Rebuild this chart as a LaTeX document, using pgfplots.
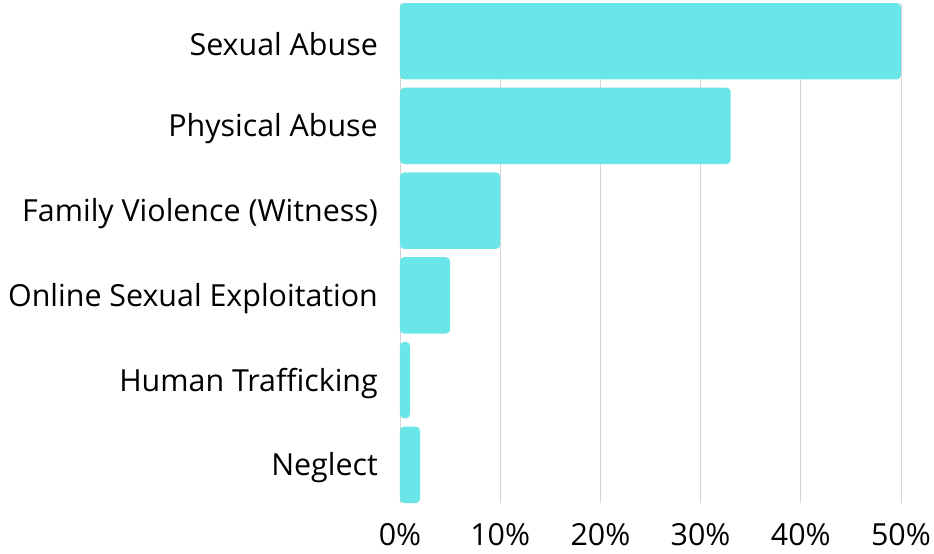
\documentclass[border=0pt]{standalone}
\usepackage{pgfplots}
\pgfplotsset{compat=1.18}
\usepackage{fontspec}
\setmainfont{Open Sans}
\definecolor{barc}{HTML}{6BE6E8}
\definecolor{gridc}{HTML}{D4D4D4}
\begin{document}
\begin{tikzpicture}
\useasboundingbox (-400bp,-51bp) rectangle (534bp,503bp);
\begin{axis}[
  at={(0,0)}, anchor=south west,
  scale only axis, width=501bp, height=500bp,
  xbar, bar width=0.9,
  xmin=0, xmax=50, ymin=-0.45, ymax=5.45,
  y dir=reverse,
  axis line style={draw=none},
  major tick length=0pt,
  xmajorgrids, grid style={gridc, line width=0.9bp},
  xtick={0,10,20,30,40,50},
  xticklabels={0\%,10\%,20\%,30\%,40\%,50\%},
  ytick={0,1,2,3,4,5},
  yticklabels={Sexual Abuse,Physical Abuse,Family Violence (Witness),Online Sexual Exploitation,Human Trafficking,Neglect},
  yticklabel style={anchor=east, inner sep=0pt, xshift=-22bp, yshift=-3bp, font=\fontsize{30.5}{36}\selectfont},
  xticklabel style={anchor=north, inner sep=0pt, yshift=-20bp, font=\fontsize{30.5}{36}\selectfont},
  clip=false,
]
\addplot[fill=barc, draw=none, rounded corners=4bp] coordinates {
(50,0) (33,1) (10,2) (5,3) (1,4) (2,5)
};
\end{axis}
\end{tikzpicture}
\end{document}
